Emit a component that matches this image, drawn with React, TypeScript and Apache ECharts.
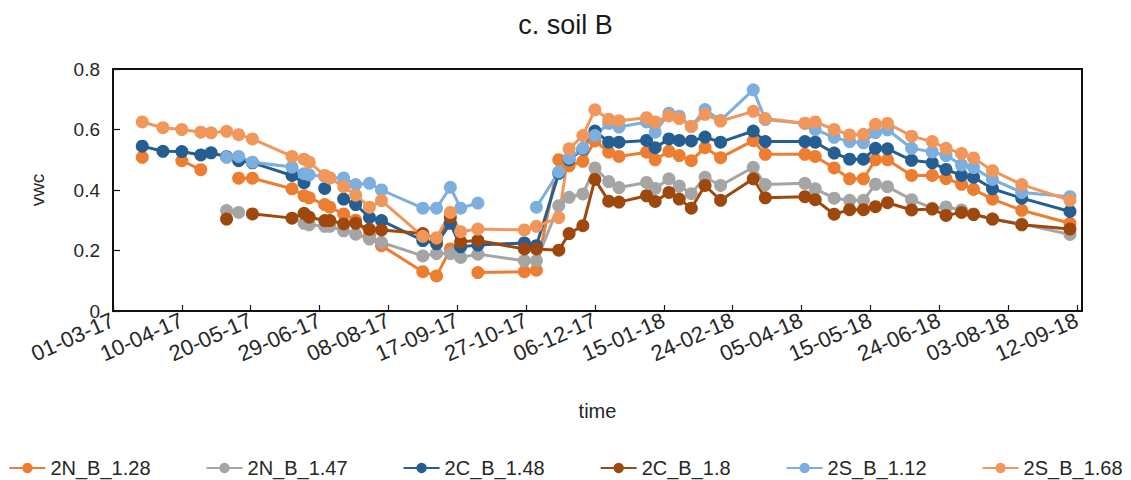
import React, { useEffect, useRef } from 'react';
import * as echarts from 'echarts';

const dates = [
  '2017-03-18', '2017-03-30', '2017-04-10', '2017-04-21', '2017-04-27', '2017-05-06', '2017-05-13', '2017-05-21',
  '2017-06-13', '2017-06-20', '2017-06-23', '2017-07-02', '2017-07-05', '2017-07-13', '2017-07-20', '2017-07-28',
  '2017-08-04', '2017-08-28', '2017-09-05', '2017-09-13', '2017-09-19', '2017-09-29', '2017-10-26', '2017-11-02',
  '2017-11-15', '2017-11-21', '2017-11-29', '2017-12-06', '2017-12-14', '2017-12-20', '2018-01-05', '2018-01-10',
  '2018-01-18', '2018-01-24', '2018-01-31', '2018-02-08', '2018-02-17', '2018-03-08', '2018-03-15', '2018-04-07',
  '2018-04-13', '2018-04-24', '2018-05-03', '2018-05-11', '2018-05-18', '2018-05-25', '2018-06-08', '2018-06-20',
  '2018-06-28', '2018-07-07', '2018-07-14', '2018-07-25', '2018-08-11', '2018-09-08',
];

const n128 = [
  0.508, null, 0.497, 0.467, null, null, 0.439, 0.439, 0.404, 0.381,
  0.374, 0.352, 0.343, 0.321, 0.300, 0.250, 0.216, 0.130, 0.116, 0.205,
  null, 0.127, 0.130, 0.135, 0.500, 0.480, 0.495, 0.562, 0.525, 0.511,
  0.525, 0.500, 0.528, 0.514, 0.497, 0.540, 0.507, 0.563, 0.518, 0.518,
  0.511, 0.473, 0.437, 0.437, 0.500, 0.500, 0.448, 0.448, 0.438, 0.419,
  0.402, 0.370, 0.333, 0.290,
];
const n147 = [
  null, null, null, null, null, 0.332, 0.326, null, null, 0.290,
  0.285, 0.280, 0.280, 0.265, 0.254, 0.238, 0.227, 0.182, 0.190, 0.190,
  0.177, 0.188, 0.166, 0.166, 0.348, 0.376, 0.387, 0.473, 0.428, 0.408,
  0.425, 0.405, 0.437, 0.413, 0.388, 0.442, 0.415, 0.475, 0.418, 0.422,
  0.404, 0.373, 0.366, 0.366, 0.419, 0.411, 0.368, 0.340, 0.344, 0.334,
  0.321, 0.304, 0.288, 0.253,
];
const c148 = [
  0.545, 0.528, 0.527, 0.516, 0.523, 0.510, 0.497, 0.490, 0.448, 0.424,
  null, 0.405, null, 0.370, 0.352, 0.309, 0.299, 0.233, 0.222, 0.290,
  0.212, 0.218, 0.225, 0.216, 0.455, 0.500, 0.535, 0.595, 0.558, 0.558,
  0.564, 0.540, 0.569, 0.564, 0.562, 0.575, 0.558, 0.595, 0.560, 0.560,
  0.558, 0.522, 0.502, 0.502, 0.538, 0.536, 0.498, 0.490, 0.468, 0.448,
  0.442, 0.404, 0.373, 0.329,
];
const c18 = [
  null, null, null, null, null, 0.304, null, 0.321, 0.307, 0.323,
  0.310, 0.299, 0.299, 0.288, 0.290, 0.270, 0.268, 0.256, 0.238, 0.310,
  0.229, 0.233, 0.205, 0.205, 0.201, 0.256, 0.282, 0.435, 0.363, 0.360,
  0.381, 0.362, 0.392, 0.370, 0.340, 0.415, 0.366, 0.437, 0.374, 0.378,
  0.368, 0.320, 0.335, 0.335, 0.345, 0.358, 0.334, 0.337, 0.316, 0.326,
  0.319, 0.304, 0.285, 0.271,
];
const s112 = [
  null, null, null, null, null, 0.508, 0.511, 0.492, 0.476, 0.454,
  0.450, 0.445, 0.440, 0.440, 0.418, 0.422, 0.400, 0.340, 0.340, 0.409,
  0.340, 0.357, null, 0.343, 0.460, 0.505, 0.538, 0.580, 0.620, 0.608,
  0.625, 0.591, 0.654, 0.644, 0.610, 0.666, 0.630, 0.731, 0.633, 0.620,
  0.600, 0.574, 0.560, 0.556, 0.590, 0.599, 0.538, 0.526, 0.514, 0.483,
  0.474, 0.435, 0.392, 0.378,
];
const s168 = [
  0.625, 0.606, 0.600, 0.591, 0.589, 0.594, 0.583, 0.569, 0.511, 0.502,
  0.492, 0.448, 0.440, 0.411, 0.383, 0.343, 0.365, 0.247, 0.242, 0.326,
  0.262, 0.271, 0.268, 0.280, 0.309, 0.536, 0.580, 0.665, 0.634, 0.629,
  0.639, 0.625, 0.645, 0.636, 0.610, 0.650, 0.628, 0.660, 0.636, 0.621,
  0.625, 0.600, 0.582, 0.584, 0.617, 0.620, 0.578, 0.560, 0.538, 0.521,
  0.506, 0.464, 0.418, 0.366,
];

const seriesNames = ['2N_B_1.28', '2N_B_1.47', '2C_B_1.48', '2C_B_1.8', '2S_B_1.12', '2S_B_1.68'];
const seriesValues = [n128, n147, c148, c18, s112, s168];
const seriesColors = ['#ED7D31', '#A5A5A5', '#255E91', '#9E480E', '#7CAFDD', '#F1975A'];

const AXIS_START = '2017-03-01';
const AXIS_END = '2018-09-15';
const TICK_DAYS = 40;

const DAY = 86400000;
function utc(s: string) {
  const [y, m, d] = s.split('-').map(Number);
  return Date.UTC(y, m - 1, d);
}
const START = utc(AXIS_START);
function toDay(s: string) {
  return Math.round((utc(s) - START) / DAY);
}
function pad(n: number) {
  return (n < 10 ? '0' : '') + n;
}
function fmtDay(day: number) {
  const dt = new Date(START + day * DAY);
  return pad(dt.getUTCDate()) + '-' + pad(dt.getUTCMonth() + 1) + '-' + pad(dt.getUTCFullYear() % 100);
}

const FONT = '"Liberation Sans", Arial, sans-serif';
const TEXT = '#262626';

export default function App() {
  const ref = useRef<HTMLDivElement>(null);
  useEffect(() => {
    if (!ref.current) return;
    const chart = echarts.init(ref.current, null, { renderer: 'svg' });
    const xs = dates.map(toDay);
    chart.setOption({
      animation: false,
      backgroundColor: '#fff',
      textStyle: { fontFamily: FONT },
      title: {
        text: 'c. soil B',
        left: 'center',
        top: 6,
        textStyle: { fontFamily: FONT, fontSize: 27, fontWeight: 'normal', color: '#1a1a1a' },
      },
      grid: {
        left: 113,
        right: 49,
        top: 69,
        bottom: 169,
        show: true,
        borderColor: '#111',
        borderWidth: 2,
      },
      legend: {
        top: 453,
        left: 'center',
        itemWidth: 36,
        itemHeight: 13,
        itemGap: 55,
        textStyle: { fontFamily: FONT, fontSize: 20, color: TEXT },
        data: seriesNames,
      },
      xAxis: {
        type: 'value',
        min: 0,
        max: toDay(AXIS_END),
        interval: TICK_DAYS,
        name: 'time',
        nameLocation: 'middle',
        nameGap: 90,
        nameTextStyle: { fontFamily: FONT, fontSize: 20, color: TEXT },
        axisLine: { show: false },
        axisTick: { show: true, inside: true, length: 6, lineStyle: { color: '#111', width: 1.2 } },
        splitLine: { show: false },
        axisLabel: {
          rotate: 24,
          margin: 8,
          fontSize: 22,
          color: TEXT,
          fontFamily: FONT,
          showMaxLabel: false,
          formatter: (v: number) => (v % TICK_DAYS === 0 ? fmtDay(v) : ''),
        },
      },
      yAxis: {
        type: 'value',
        min: 0,
        max: 0.8,
        interval: 0.2,
        name: 'vwc',
        nameLocation: 'middle',
        nameGap: 66,
        nameRotate: 90,
        nameTextStyle: { fontFamily: FONT, fontSize: 19, color: TEXT },
        axisLine: { show: false },
        axisTick: { show: true, inside: true, length: 7, lineStyle: { color: '#111', width: 1.2 } },
        splitLine: { show: false },
        axisLabel: {
          fontSize: 19,
          color: TEXT,
          fontFamily: FONT,
          margin: 13,
          formatter: (v: number) => (v === 0 ? '0' : v.toFixed(1)),
        },
      },
      series: seriesNames.map((name, i) => ({
        name,
        type: 'line',
        data: seriesValues[i].map((v, j) => [xs[j], v == null ? '-' : v]),
        connectNulls: false,
        symbol: 'circle',
        symbolSize: 13,
        showSymbol: true,
        lineStyle: { color: seriesColors[i], width: 3 },
        itemStyle: { color: seriesColors[i] },
        emphasis: { disabled: true },
      })),
    });
    return () => chart.dispose();
  }, []);
  return (
    <div
      ref={ref}
      style={{ position: 'absolute', left: 0, top: 0, width: 1131, height: 480 }}
    />
  );
}
